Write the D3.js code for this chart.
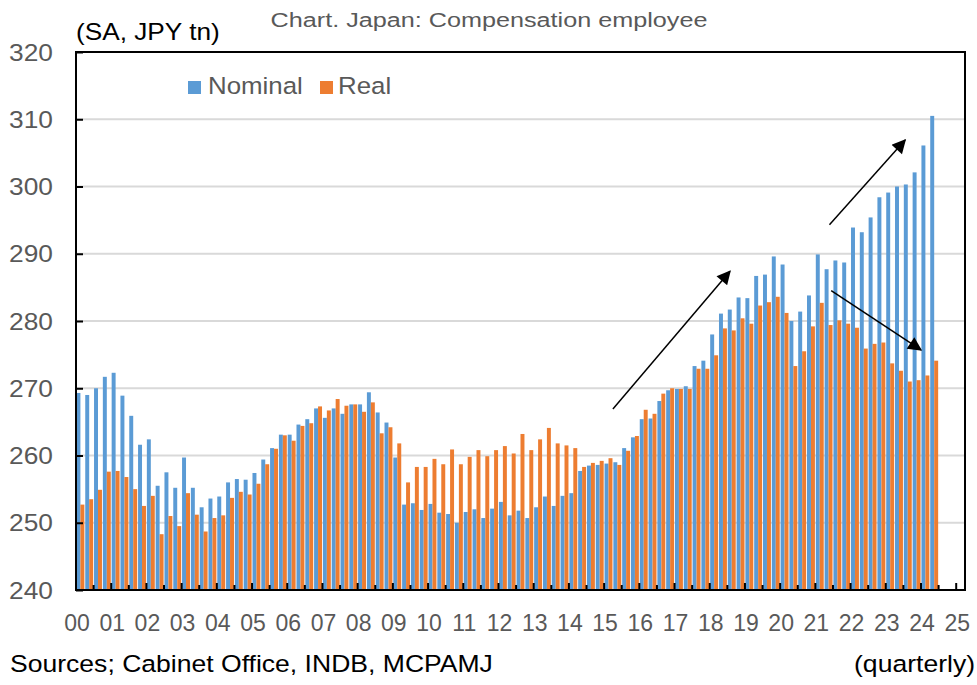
<!DOCTYPE html>
<html>
<head>
<meta charset="utf-8">
<script src="https://cdn.jsdelivr.net/npm/d3@7"></script>
<style>
  body { margin: 0; background: #fff; }
  text { font-family: "Liberation Sans", Arial, sans-serif; }
</style>
</head>
<body>
<svg id="mysvg"></svg>
<script>
// quarterly, 2000Q1 .. 2024Q2 (SA, JPY tn)
let yearLabels = ["00","01","02","03","04","05","06","07","08","09","10","11","12",
                  "13","14","15","16","17","18","19","20","21","22","23","24","25"];
let nominal = [
  269.3, 269.0, 270.0, 271.7,  272.3, 268.9, 265.9, 261.6,
  262.4, 255.5, 257.5, 255.2,  259.7, 255.2, 252.3, 253.6,
  253.9, 256.0, 256.5, 256.4,  257.4, 259.4, 261.1, 263.1,
  263.1, 264.6, 265.4, 267.0,  265.6, 267.0, 266.2, 267.6,
  267.6, 269.4, 266.4, 264.9,  259.7, 252.7, 252.9, 251.9,
  252.8, 251.5, 251.3, 250.0,  251.6, 252.0, 250.7, 252.1,
  253.1, 251.1, 251.8, 250.7,  252.3, 253.9, 252.5, 254.0,
  254.4, 257.7, 258.5, 258.6,  258.8, 259.0, 261.1, 262.7,
  265.4, 265.5, 268.1, 269.7,  269.9, 270.3, 273.3, 274.1,
  278.0, 281.1, 281.7, 283.5,  283.4, 286.7, 286.9, 289.6,
  288.4, 280.0, 281.4, 283.8,  289.9, 287.7, 289.0, 288.7,
  293.9, 293.2, 295.4, 298.4,  299.1, 300.0, 300.3, 302.1,
  306.1, 310.5
];
let real = [
  252.7, 253.5, 254.9, 257.6,  257.7, 256.8, 255.0, 252.5,
  254.0, 248.3, 251.0, 249.5,  254.4, 251.2, 248.7, 250.7,
  251.1, 253.7, 254.6, 254.2,  255.8, 258.7, 261.0, 263.0,
  262.2, 264.4, 264.8, 267.3,  266.7, 268.4, 267.4, 267.6,
  266.5, 267.9, 263.3, 264.2,  261.8, 256.0, 258.3, 258.3,
  259.5, 258.7, 260.9, 258.7,  259.8, 260.8, 259.9, 260.8,
  261.4, 260.3, 263.2, 260.8,  262.4, 264.1, 261.8, 261.5,
  261.1, 258.3, 258.9, 259.2,  259.6, 258.6, 260.7, 262.9,
  266.8, 266.2, 269.2, 270.0,  269.9, 269.9, 272.9, 272.9,
  274.9, 278.9, 278.6, 280.4,  279.6, 282.3, 282.8, 283.6,
  281.2, 273.3, 275.5, 279.2,  282.7, 279.4, 280.1, 279.6,
  279.0, 275.9, 276.6, 276.8,  273.7, 272.6, 271.0, 271.2,
  271.9, 274.1
];
let yTicks = [240, 250, 260, 270, 280, 290, 300, 310, 320];
// annotation arrows in (quarter index, value) terms
let arrows = [
  { q0: 61.0, v0: 266.9, q1: 74.3, v1: 287.4 },
  { q0: 85.6, v0: 294.3, q1: 94.2, v1: 306.9 },
  { q0: 85.8, v0: 284.5, q1: 96.0, v1: 275.7 }
];

// axis runs 2000Q1 .. 2025Q1
let quarters = [];
yearLabels.forEach(function(yr) {
  for (let q = 1; q <= 4; q++) quarters.push(yr + "Q" + q);
});
quarters = quarters.slice(0, 101);

let data = nominal.map(function(d, i) {
  return { q: quarters[i], nominal: d, real: real[i] };
});

let blue = "#5B9BD5", orange = "#ED7D31", grey = "#595959";

let svg = d3.select("#mysvg").attr("width", 977).attr("height", 685);
let pLeft = 76, pTop = 52, pRight = 965, pBottom = 590;

let x = d3.scaleBand().domain(quarters).range([pLeft, pRight]).paddingInner(0.1).paddingOuter(0.05);
let x1 = d3.scaleBand().domain(["nominal", "real"]).range([0, x.bandwidth()]);
let xq = d3.scaleLinear().domain([0, quarters.length]).range([pLeft, pRight]);
let y = d3.scaleLinear().domain([240, 320]).range([pBottom, pTop]);

function label(px, py, txt, size, color, anchor, sx) {
  svg.append("text")
    .attr("transform", "translate(" + px + "," + py + ") scale(" + sx + ",1)")
    .attr("text-anchor", anchor)
    .attr("font-size", size + "px")
    .attr("fill", color)
    .text(txt);
}

// gridlines
svg.append("g")
  .selectAll("line")
  .data(yTicks.filter(function(d) { return d > 240 && d < 320; }))
  .enter().append("line")
  .attr("x1", pLeft).attr("x2", pRight)
  .attr("y1", function(d) { return y(d); })
  .attr("y2", function(d) { return y(d); })
  .attr("stroke", "#d9d9d9")
  .attr("stroke-width", 2);

// bars
let groups = svg.append("g").selectAll("g")
  .data(data).enter().append("g")
  .attr("transform", function(d) { return "translate(" + x(d.q) + ",0)"; });

groups.append("rect")
  .attr("x", x1("nominal"))
  .attr("width", x1.bandwidth())
  .attr("y", function(d) { return y(d.nominal); })
  .attr("height", function(d) { return pBottom - y(d.nominal); })
  .attr("fill", blue);

groups.append("rect")
  .attr("x", x1("real"))
  .attr("width", x1.bandwidth())
  .attr("y", function(d) { return y(d.real); })
  .attr("height", function(d) { return pBottom - y(d.real); })
  .attr("fill", orange);

// frame
svg.append("rect")
  .attr("x", pLeft).attr("y", pTop)
  .attr("width", pRight - pLeft).attr("height", pBottom - pTop)
  .attr("fill", "none")
  .attr("stroke", "#000")
  .attr("stroke-width", 2);

// y axis ticks (inside) + labels
svg.append("g")
  .attr("transform", "translate(" + pLeft + ",0)")
  .call(d3.axisRight(y).tickValues(yTicks).tickSize(7).tickFormat(""))
  .call(function(g) { g.select(".domain").remove(); })
  .selectAll("line").attr("stroke", "#000").attr("stroke-width", 2);

yTicks.forEach(function(t) {
  label(53, y(t) + 8.5, t, 23.5, grey, "end", 1.12);
});

// x ticks: tall at each year, short at mid-year
let tickIdx = d3.range(2, quarters.length, 2);
svg.append("g")
  .selectAll("line")
  .data(tickIdx).enter().append("line")
  .attr("x1", function(d) { return xq(d); })
  .attr("x2", function(d) { return xq(d); })
  .attr("y1", pBottom)
  .attr("y2", function(d) { return d % 4 === 0 ? pBottom - 7 : pBottom - 5; })
  .attr("stroke", "#000")
  .attr("stroke-width", 2);

yearLabels.forEach(function(yl, i) {
  label(xq(i * 4) + 1, 631, yl, 23, grey, "middle", 1.0);
});

// arrows
svg.append("defs").append("marker")
  .attr("id", "head")
  .attr("viewBox", "0 0 10 10")
  .attr("refX", 9).attr("refY", 5)
  .attr("markerWidth", 16).attr("markerHeight", 14)
  .attr("markerUnits", "userSpaceOnUse")
  .attr("orient", "auto")
  .append("path").attr("d", "M0,0 L10,5 L0,10 Z").attr("fill", "#000");

svg.append("g").selectAll("line")
  .data(arrows).enter().append("line")
  .attr("x1", function(d) { return xq(d.q0); })
  .attr("y1", function(d) { return y(d.v0); })
  .attr("x2", function(d) { return xq(d.q1); })
  .attr("y2", function(d) { return y(d.v1); })
  .attr("stroke", "#000")
  .attr("stroke-width", 1.5)
  .attr("marker-end", "url(#head)");

// legend
svg.append("rect").attr("x", 188).attr("y", 81).attr("width", 13).attr("height", 13).attr("fill", blue);
label(208, 94, "Nominal", 23.5, grey, "start", 1.1);
svg.append("rect").attr("x", 320).attr("y", 81).attr("width", 13).attr("height", 13).attr("fill", orange);
label(338, 94, "Real", 23.5, grey, "start", 1.1);

// texts
label(489, 27, "Chart. Japan: Compensation employee", 21, grey, "middle", 1.2);
label(76, 40, "(SA, JPY tn)", 23, "#000", "start", 1.14);
label(10, 672, "Sources; Cabinet Office, INDB, MCPAMJ", 23.3, "#000", "start", 1.14);
label(975, 672, "(quarterly)", 23.3, "#000", "end", 1.14);
</script>
</body>
</html>
